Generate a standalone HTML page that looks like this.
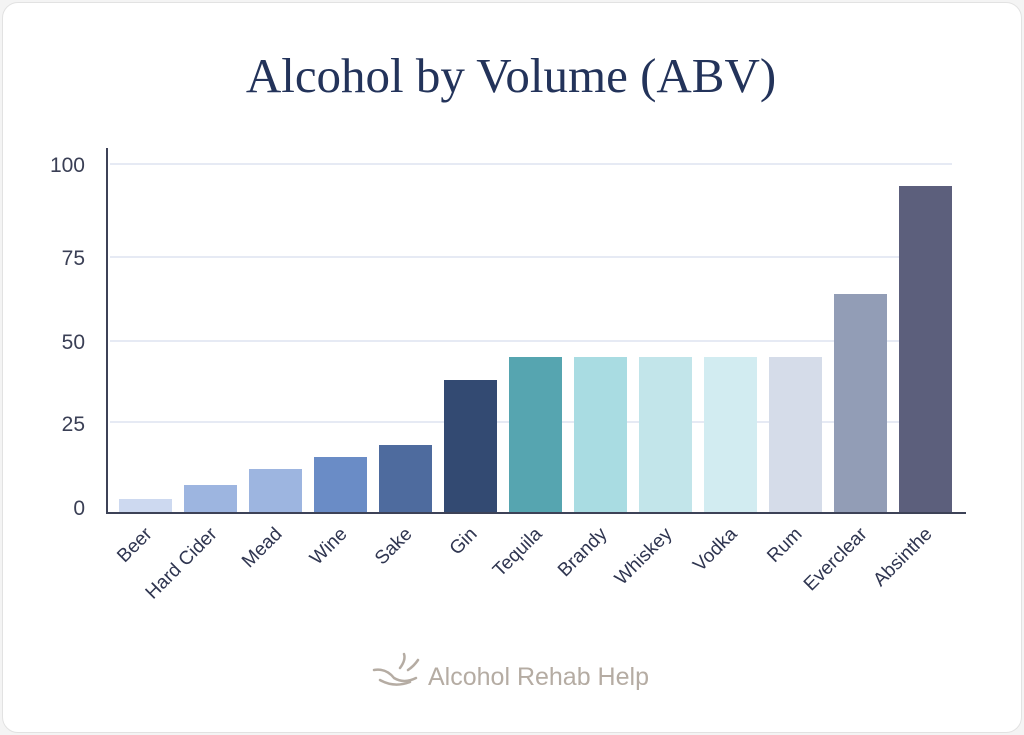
<!DOCTYPE html>
<html><head><meta charset="utf-8"><style>
body{margin:0;background:#f4f4f4;}
.card{position:absolute;left:2px;top:2px;width:1018px;height:729px;background:#fff;border:1px solid #e2e2e2;border-radius:16px;}
</style></head><body>
<div class="card"></div>
<svg width="1024" height="735" style="position:absolute;left:0;top:0" font-family="Liberation Sans, sans-serif">
<text x="511" y="92" text-anchor="middle" font-family="Liberation Serif, serif" font-size="49" fill="#23335a">Alcohol by Volume (ABV)</text>
<g stroke="#dde3f0" stroke-width="1.5">
<line x1="110" x2="952" y1="164" y2="164"/><line x1="110" x2="952" y1="257" y2="257"/>
<line x1="110" x2="952" y1="341" y2="341"/><line x1="110" x2="952" y1="422" y2="422"/>
</g>
<g font-size="21" fill="#3a3f55" text-anchor="end">
<text x="85" y="172">100</text><text x="85" y="265">75</text><text x="85" y="349">50</text><text x="85" y="431">25</text><text x="85" y="515">0</text>
</g>
<g>
<rect x="119" y="499" width="53" height="13" fill="#cdd9f0"/>
<rect x="184" y="485" width="53" height="27" fill="#9db5e0"/>
<rect x="249" y="469" width="53" height="43" fill="#9db5e0"/>
<rect x="314" y="457" width="53" height="55" fill="#6a8cc6"/>
<rect x="379" y="445" width="53" height="67" fill="#4e6b9e"/>
<rect x="444" y="380" width="53" height="132" fill="#334a72"/>
<rect x="509" y="357" width="53" height="155" fill="#56a5b0"/>
<rect x="574" y="357" width="53" height="155" fill="#a9dce2"/>
<rect x="639" y="357" width="53" height="155" fill="#c2e5ea"/>
<rect x="704" y="357" width="53" height="155" fill="#d2ecf1"/>
<rect x="769" y="357" width="53" height="155" fill="#d5dce9"/>
<rect x="834" y="294" width="53" height="218" fill="#929db6"/>
<rect x="899" y="186" width="53" height="326" fill="#5c5f7c"/>
</g>
<line x1="107" y1="148" x2="107" y2="513" stroke="#3d4257" stroke-width="2"/>
<line x1="106" y1="513" x2="966" y2="513" stroke="#3d4257" stroke-width="2"/>
<g font-size="19" fill="#2f3550" text-anchor="end">
<text transform="translate(153,535) rotate(-45)">Beer</text>
<text transform="translate(218,535) rotate(-45)">Hard Cider</text>
<text transform="translate(283,535) rotate(-45)">Mead</text>
<text transform="translate(348,535) rotate(-45)">Wine</text>
<text transform="translate(413,535) rotate(-45)">Sake</text>
<text transform="translate(478,535) rotate(-45)">Gin</text>
<text transform="translate(543,535) rotate(-45)">Tequila</text>
<text transform="translate(608,535) rotate(-45)">Brandy</text>
<text transform="translate(673,535) rotate(-45)">Whiskey</text>
<text transform="translate(738,535) rotate(-45)">Vodka</text>
<text transform="translate(803,535) rotate(-45)">Rum</text>
<text transform="translate(868,535) rotate(-45)">Everclear</text>
<text transform="translate(933,535) rotate(-45)">Absinthe</text>
</g>
<g fill="none" stroke="#b5aca3" stroke-width="2.5" stroke-linecap="round">
<path d="M374 670 q12 -2 20 8 q10 6 22 0"/><path d="M380 680 q14 8 30 2"/><path d="M400 668 q6 -8 4 -14"/><path d="M408 670 q6 -4 10 -10"/>
</g>
<text x="428" y="685" font-size="25" fill="#b5aca3">Alcohol Rehab Help</text>
</svg>
</body></html>
